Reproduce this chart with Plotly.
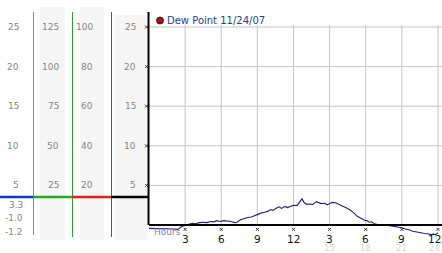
import plotly.graph_objects as go

# ---------------- data ----------------
hours = [0.0, 0.5, 1.0, 1.5, 2.0, 2.4, 2.7, 3.0, 3.3, 3.6, 3.9, 4.2, 4.5, 4.8, 5.1, 5.4,
         5.6, 5.9, 6.2, 6.5, 6.8, 7.1, 7.3, 7.6, 7.9, 8.2, 8.5, 8.8, 9.1, 9.3, 9.6, 9.9,
         10.1, 10.3, 10.6, 10.8, 11.0, 11.3, 11.5, 11.8, 12.0, 12.3, 12.5, 12.7, 12.9,
         13.1, 13.3, 13.6, 13.9, 14.1, 14.3, 14.6, 14.8, 15.0, 15.2, 15.5, 15.8, 16.1,
         16.4, 16.7, 16.9, 17.1, 17.3, 17.5, 17.7, 17.9, 18.1, 18.3, 18.5, 18.7, 18.9,
         19.2, 19.5, 19.8, 20.1, 20.4, 20.7, 21.0, 21.3, 21.6, 21.9, 22.2, 22.5, 22.8,
         23.1, 23.4, 23.6, 23.8, 24.0]
dew_point = [-0.42, -0.42, -0.45, -0.45, -0.5, -0.55, -0.2, -0.05, 0.1, 0.2, 0.15, 0.3,
             0.35, 0.3, 0.45, 0.4, 0.55, 0.45, 0.55, 0.5, 0.45, 0.3, 0.35, 0.65, 0.8, 0.95,
             1.0, 1.2, 1.35, 1.5, 1.6, 1.75, 1.95, 1.85, 2.15, 2.3, 2.1, 2.35, 2.2, 2.4,
             2.5, 2.45, 2.9, 3.3, 2.8, 2.6, 2.65, 2.6, 2.95, 2.8, 2.7, 2.75, 2.55, 2.7,
             2.85, 2.8, 2.6, 2.45, 2.15, 1.9, 1.7, 1.4, 1.1, 0.9, 0.7, 0.6, 0.55, 0.35,
             0.4, 0.15, 0.1, 0.0, 0.05, -0.02, -0.05, -0.15, -0.2, -0.35, -0.5, -0.6,
             -0.8, -0.9, -1.0, -1.05, -1.1, -1.2, -1.15, -1.2, -1.0]

y_ticks = [5, 10, 15, 20, 25]
col1_labels = ["5", "10", "15", "20", "25"]
col2_labels = ["25", "50", "75", "100", "125"]
col3_labels = ["20", "40", "60", "80", "100"]
col4_labels = ["5", "10", "15", "20", "25"]
x_ticks = [3, 6, 9, 12, 15, 18, 21, 24]
x_labels = ["3", "6", "9", "12", "3", "6", "9", "12"]
x_labels_24 = ["", "", "", "", "15", "18", "21", "24"]
stat_labels = ["3.3", "-1.0", "-1.2"]
series_name = "Dew Point 11/24/07"

# ---------------- layout helpers ----------------
W, H = 442, 253
X0, PXH = 149, 12.04      # pixel of hour 0, pixels per hour
Y0, PXV = 225, 7.92       # pixel of value 0, pixels per unit


def px(x):
    return x / W


def py(y):
    return 1 - y / H


FONT = "DejaVu Sans"
fig = go.Figure()

fig.add_trace(go.Scatter(x=hours, y=dew_point, mode="lines",
                         line=dict(color="#1c1c8c", width=1.1), showlegend=False,
                         hoverinfo="skip"))

shapes = []
ann = []

# left panel gray columns
for x0, x1, y0 in [(40, 65, 7), (80, 104, 7), (115, 147, 15)]:
    shapes.append(dict(type="rect", xref="paper", yref="paper", x0=px(x0), x1=px(x1),
                       y0=py(240), y1=py(y0), fillcolor="#f5f5f5", line_width=0,
                       layer="below"))
# colored vertical lines
for x, c, yb in [(33.5, "#3a9ccc", 235), (72.5, "#2e9e2e", 237), (111.5, "#b83030", 237)]:
    shapes.append(dict(type="line", xref="paper", yref="paper", x0=px(x), x1=px(x),
                       y0=py(12), y1=py(yb), line=dict(color=c, width=1)))
# colored horizontal marker line
for x0, x1, c in [(0, 33, "#1034d0"), (33, 72, "#22aa22"), (72, 111, "#e02020"),
                  (111, 149, "#000000")]:
    shapes.append(dict(type="line", xref="paper", yref="paper", x0=px(x0), x1=px(x1),
                       y0=py(197), y1=py(197), line=dict(color=c, width=2.5)))

# grid lines
x_right = (W - X0) / PXH
for v in y_ticks:
    shapes.append(dict(type="line", xref="x", yref="y", x0=0, x1=x_right, y0=v, y1=v,
                       line=dict(color="#c4c4c4", width=1), layer="below"))
for h in x_ticks:
    shapes.append(dict(type="line", xref="x", yref="y", x0=h, x1=h, y0=0, y1=25.25,
                       line=dict(color="#c4c4c4", width=1), layer="below"))
# axis lines
shapes.append(dict(type="line", xref="x", yref="y", x0=-0.04, x1=-0.04, y0=0, y1=26.9,
                   line=dict(color="#000000", width=2)))
shapes.append(dict(type="line", xref="x", yref="y", x0=0, x1=x_right, y0=0, y1=0,
                   line=dict(color="#000000", width=2)))

# legend marker
shapes.append(dict(type="circle", xref="paper", yref="paper", x0=px(156.5), x1=px(163.5),
                   y0=py(24), y1=py(17), fillcolor="#a01818",
                   line=dict(color="#5a1010", width=1)))
ann.append(dict(text=series_name, xref="paper", yref="paper", x=px(165), y=py(20.5),
                xanchor="left", yanchor="middle", showarrow=False,
                font=dict(family=FONT, size=10, color="#2a3a9c")))

# left panel labels
gray = "#858585"
for labels, xr in [(col1_labels, 21), (col2_labels, 61), (col3_labels, 95), (col4_labels, 138)]:
    for v, t in zip(y_ticks, labels):
        ann.append(dict(text=t, xref="paper", yref="y", x=px(xr), y=v, xanchor="right",
                        yanchor="middle", showarrow=False,
                        font=dict(family=FONT, size=9, color=gray)))
for t, yy in zip(stat_labels, [204.5, 218, 232]):
    ann.append(dict(text=t, xref="paper", yref="paper", x=px(25), y=py(yy), xanchor="right",
                    yanchor="middle", showarrow=False,
                    font=dict(family=FONT, size=9, color=gray)))

# x axis labels
n = len(x_ticks)
for i, (h, t, t2) in enumerate(zip(x_ticks, x_labels, x_labels_24)):
    shift = -3 if i == n - 1 else 0
    ann.append(dict(text=t, xref="x", yref="paper", x=h, y=py(239), xanchor="center",
                    yanchor="middle", showarrow=False, xshift=shift,
                    font=dict(family=FONT, size=10.5, color="#111111")))
    if t2:
        ann.append(dict(text=t2, xref="x", yref="paper", x=h, y=py(248), xanchor="center",
                        yanchor="middle", showarrow=False, xshift=shift,
                        font=dict(family=FONT, size=8.5, color="#d4d4d4")))
ann.append(dict(text="Hours", xref="paper", yref="paper", x=px(152), y=py(232),
                xanchor="left", yanchor="middle", showarrow=False,
                font=dict(family=FONT, size=9, color="#7a86a8")))

# tiny tick glyphs
fig.add_trace(go.Scatter(x=[-0.2] * len(y_ticks), y=y_ticks, mode="markers",
                         marker=dict(symbol="x-thin", size=3,
                                     line=dict(color="#333333", width=1)),
                         showlegend=False, hoverinfo="skip"))
fig.add_trace(go.Scatter(x=x_ticks, y=[-0.55] * len(x_ticks), mode="markers",
                         marker=dict(symbol="x-thin", size=3,
                                     line=dict(color="#333333", width=1)),
                         showlegend=False, hoverinfo="skip"))

fig.update_layout(
    width=W, height=H, margin=dict(l=0, r=0, t=0, b=0),
    paper_bgcolor="white", plot_bgcolor="rgba(0,0,0,0)",
    xaxis=dict(range=[-X0 / PXH, x_right], domain=[0, 1], visible=False, fixedrange=True),
    yaxis=dict(range=[-(H - Y0) / PXV, Y0 / PXV], domain=[0, 1], visible=False,
               fixedrange=True),
    shapes=shapes, annotations=ann, showlegend=False,
)

fig.write_html("out.html", config={"displayModeBar": False})
